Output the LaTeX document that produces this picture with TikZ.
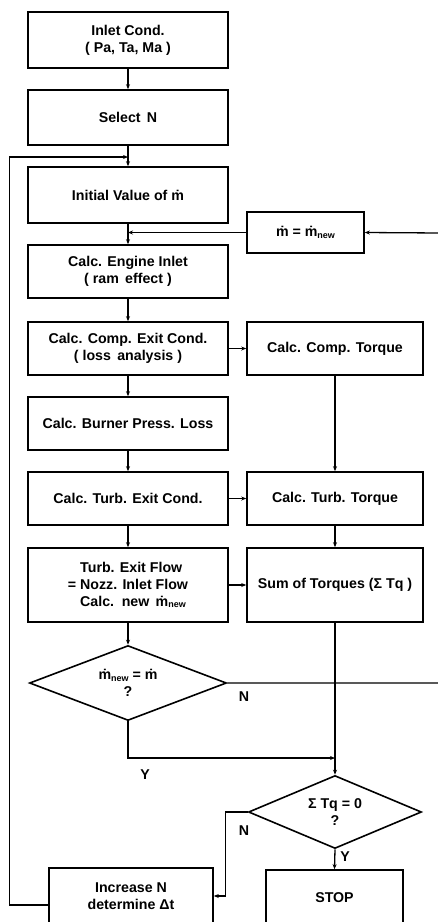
\documentclass[tikz,border=0pt]{standalone}
\usepackage{fontspec}
\setmainfont{Liberation Sans}
\usetikzlibrary{shapes.geometric,arrows.meta}
\newcommand{\mysub}[1]{\raisebox{-1.5pt}{\fontsize{9}{9}\selectfont #1}}
\begin{document}
\begin{tikzpicture}[x=1pt,y=-1pt,
  font=\bfseries\fontsize{14.2}{17}\selectfont,
  box/.style={draw, line width=1.6pt, inner sep=0pt, align=center},
  dia/.style={draw, diamond, aspect=2.6, line width=1.6pt, inner sep=0pt, align=center},
  con/.style={line width=1.3pt},
  arr/.style={con, -{Stealth[length=5pt,width=4pt]}},
  lbl/.style={inner sep=0pt}]
\useasboundingbox (0,0) rectangle (438,922);
\clip (0,0) rectangle (438,922);
% left column
\node[box, minimum width=200pt, minimum height=56pt] (b1) at (128,40) {Inlet Cond.\\( Pa, Ta, Ma )};
\node[box, minimum width=200pt, minimum height=55pt] (b2) at (128,117.5) {Select\, N};
\node[box, minimum width=200pt, minimum height=56pt] (b3) at (128,195) {Initial Value of ṁ};
\node[box, minimum width=200pt, minimum height=53pt] (b4) at (128,271.5) {Calc. Engine Inlet\\( ram\, effect )};
\node[box, minimum width=200pt, minimum height=53pt] (b5) at (128,348.5) {Calc. Comp. Exit Cond.\\( loss\, analysis )};
\node[box, minimum width=200pt, minimum height=53pt] (b6) at (128,423.5) {Calc. Burner Press. Loss};
\node[box, minimum width=200pt, minimum height=53pt] (b7) at (128,498.5) {Calc. Turb. Exit Cond.};
\node[box, minimum width=200pt, minimum height=74pt, align=left] (b8) at (128,585) {\phantom{= }Turb. Exit Flow\\= Nozz. Inlet Flow\\\phantom{= }Calc.\, new\, ṁ\mysub{new}};
\node[dia, minimum width=197pt, minimum height=75pt] (d1) at (128,683) {ṁ\mysub{new} = ṁ\\?};
\node[box, minimum width=164pt, minimum height=56pt] (inc) at (131,896) {Increase N\\determine Δt};
% right column
\node[box, minimum width=117pt, minimum height=41pt] (mnew) at (305.5,232.5) {ṁ = ṁ\mysub{new}};
\node[box, minimum width=176pt, minimum height=53pt] (r5) at (335,348.5) {Calc. Comp. Torque};
\node[box, minimum width=176pt, minimum height=53pt] (r7) at (335,498.5) {Calc. Turb. Torque};
\node[box, minimum width=176pt, minimum height=74pt] (r8) at (335,585) {Sum of Torques (Σ Tq )};
\node[dia, minimum width=173pt, minimum height=73pt] (d2) at (335,812) {Σ Tq = 0\\?};
\node[box, minimum width=137pt, minimum height=56pt] (stop) at (334.5,898) {STOP};
% labels
\node[lbl] (lN1) at (244,697) {N};
\node[lbl] (lY1) at (145,775) {Y};
\node[lbl] (lN2) at (244,831) {N};
\node[lbl] (lY2) at (345,857) {Y};
% junctions
\coordinate (j1) at (128,157);
\coordinate (j2) at (335,758);
\coordinate (eN) at (441,683);
\coordinate (eM) at (441,233);
% connectors
\draw[arr] (b1) -- (b2);
\draw[arr] (b2) -- (b3);
\draw[arr] (b3) -- (b4);
\draw[arr] (b4) -- (b5);
\draw[arr] (b5) -- (b6);
\draw[arr] (b6) -- (b7);
\draw[arr] (b7) -- (b8);
\draw[arr] (b8) -- (d1);
\draw[arr] (b5) -- (r5);
\draw[arr] (b7) -- (r7);
\draw[arr] (b8) -- (r8);
\draw[arr] (r5) -- (r7);
\draw[arr] (r7) -- (r8);
\draw[arr] (r8) -- (d2);
\draw[arr] (d1.east) -- (eN) -- (eM) -- (mnew.east);
\draw[arr] (mnew.west) -- (b3.south |- mnew.west);
\draw[arr] (d1.south) |- (j2);
\draw[arr] (d2.west) -- ++(-22,0) |- (inc.east);
\draw[arr] (d2.south) -- (stop.north);
\draw[arr] ([yshift=-9pt]inc.west) -- ++(-39,0) |- (j1);
\end{tikzpicture}
\end{document}
